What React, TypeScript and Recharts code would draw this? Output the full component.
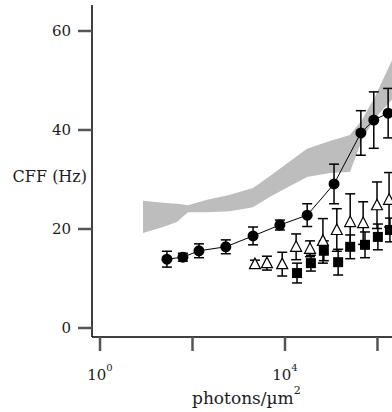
import { ComposedChart, Area, Scatter, ErrorBar, XAxis, YAxis } from 'recharts';

// gray band (range of the reference condition)
const bandX = [8.5, 23, 46, 80, 206, 647, 2030, 4740, 29900, 94000, 254000, 462000, 883000, 2060000];
const bandLow = [19.2, 20.4, 21.4, 23.4, 23.4, 23.6, 24.4, 26.5, 30.5, 31.3, 31.5, 38.0, 42.4, 46.1];
const bandHigh = [25.7, 25.3, 25.1, 24.8, 25.9, 26.9, 28.3, 30.7, 36.2, 37.8, 39.0, 42.0, 46.7, 54.1];

// filled circles (connected)
const circleX = [28, 62, 138, 525, 2040, 7760, 30200, 115000, 437000, 832000, 1700000];
const circleY = [13.9, 14.3, 15.6, 16.4, 18.6, 20.8, 22.8, 29.1, 39.4, 42.0, 43.4];
const circleErr = [1.6, 0.8, 1.4, 1.4, 1.8, 1.0, 2.3, 4.0, 4.5, 5.7, 5.0];

// open triangles
const triX = [2240, 4070, 8710, 17400, 34700, 66100, 132000, 257000, 490000, 977000, 1780000];
const triY = [12.9, 13.1, 12.9, 16.4, 16.0, 17.6, 19.8, 21.4, 21.2, 24.8, 25.9];
const triErr = [0.8, 1.4, 2.4, 2.6, 1.6, 4.5, 4.3, 5.7, 4.3, 4.7, 5.5];

// filled squares
const sqX = [18200, 36300, 69200, 141000, 257000, 537000, 1020000, 1860000];
const sqY = [11.1, 13.1, 15.6, 13.3, 16.4, 16.8, 18.4, 19.8];
const sqErr = [2.0, 1.6, 2.0, 2.6, 2.4, 2.6, 2.6, 2.4];

const xTicks = [1, 100, 10000, 1000000];
const xTickLabels: Record<number, string> = { 1: '0', 10000: '4' };
const yTicks = [0, 20, 40, 60];

const FONT = 'DejaVu Serif, serif';
const INK = '#1c1c24';

const bandData = bandX.map((x, i) => ({ x, band: [bandLow[i], bandHigh[i]] }));
const circleData = circleX.map((x, i) => ({ x, y: circleY[i], err: circleErr[i] }));
const triData = triX.map((x, i) => ({ x, y: triY[i], err: triErr[i] }));
const sqData = sqX.map((x, i) => ({ x, y: sqY[i], err: sqErr[i] }));

const Dot = (p: any) => <circle cx={p.cx} cy={p.cy} r={5.5} fill="#000" />;
const Square = (p: any) => <rect x={p.cx - 5} y={p.cy - 5} width={10} height={10} fill="#000" />;
const Triangle = (p: any) => (
  <polygon
    points={`${p.cx},${p.cy - 6} ${p.cx - 5.5},${p.cy + 4.5} ${p.cx + 5.5},${p.cy + 4.5}`}
    fill="#fff"
    stroke="#000"
    strokeWidth={1.2}
  />
);

function XTick(props: any) {
  const { x, y, payload } = props;
  const exp = xTickLabels[payload.value];
  if (exp === undefined) return null;
  return (
    <text x={x} y={y + 29} textAnchor="middle" fontFamily={FONT} fontSize={15} fill={INK}>
      <tspan>10</tspan>
      <tspan dy={-9} fontSize={10}>{exp}</tspan>
    </text>
  );
}

export default function App() {
  return (
    <div style={{ width: 392, height: 412, overflow: 'hidden', background: '#fff' }}>
      <style>{'body{margin:0}'}</style>
      <ComposedChart width={460} height={412} margin={{ top: 5, right: 10, bottom: 0, left: 0 }}>
        <XAxis
          type="number"
          dataKey="x"
          scale="log"
          domain={[0.671, 3.7e7]}
          allowDataOverflow
          ticks={xTicks}
          interval={0}
          height={75}
          tickSize={14}
          tickMargin={0}
          tick={<XTick />}
          axisLine={{ stroke: '#000', strokeWidth: 1.5 }}
          tickLine={{ stroke: '#555', strokeWidth: 2.5 }}
          label={(p: any) => (
            <text x={p.viewBox.x + 100} y={p.viewBox.y + 67} fontFamily={FONT} fontSize={17} fill={INK}>
              <tspan>photons/µm</tspan>
              <tspan dy={-10} fontSize={11}>2</tspan>
            </text>
          )}
        />
        <YAxis
          type="number"
          width={92}
          domain={[-1.82, 65.25]}
          allowDataOverflow
          ticks={yTicks}
          interval={0}
          tickSize={14}
          tickMargin={7}
          tick={{ fontFamily: FONT, fontSize: 15, fill: INK }}
          axisLine={{ stroke: '#000', strokeWidth: 1.5 }}
          tickLine={{ stroke: '#555', strokeWidth: 2.5 }}
          label={(p: any) => (
            <text x={p.viewBox.x + 87} y={p.viewBox.y + 177} textAnchor="end" fontFamily={FONT} fontSize={16} fill={INK}>
              CFF (Hz)
            </text>
          )}
        />
        <Area
          data={bandData}
          dataKey="band"
          type="linear"
          fill="#bdbdbd"
          fillOpacity={1}
          stroke="none"
          isAnimationActive={false}
        />
        <Scatter
          data={circleData}
          dataKey="y"
          line={{ stroke: '#000', strokeWidth: 1 }}
          shape={Dot}
          isAnimationActive={false}
        >
          <ErrorBar dataKey="err" direction="y" width={5} stroke="#000" strokeWidth={1.5} />
        </Scatter>
        <Scatter data={sqData} dataKey="y" shape={Square} isAnimationActive={false}>
          <ErrorBar dataKey="err" direction="y" width={5} stroke="#000" strokeWidth={1.5} />
        </Scatter>
        <Scatter data={triData} dataKey="y" shape={Triangle} isAnimationActive={false}>
          <ErrorBar dataKey="err" direction="y" width={5} stroke="#000" strokeWidth={1.5} />
        </Scatter>
      </ComposedChart>
    </div>
  );
}
